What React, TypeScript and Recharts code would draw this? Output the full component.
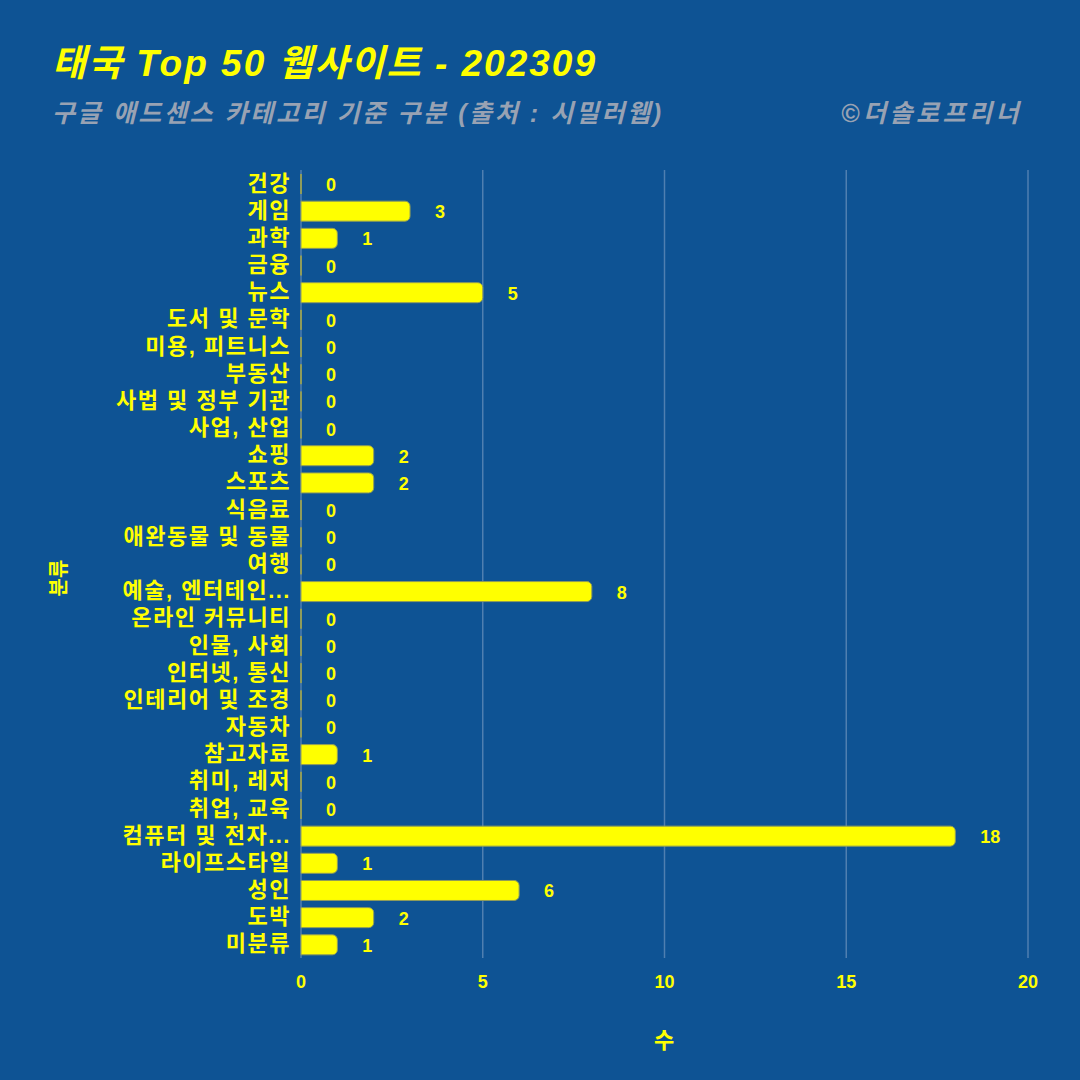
import React from "react"
import { BarChart, Bar, XAxis, YAxis, CartesianGrid } from "recharts"

const categories = [
  "건강", "게임", "과학", "금융", "뉴스", "도서 및 문학", "미용, 피트니스", "부동산",
  "사법 및 정부 기관", "사업, 산업", "쇼핑", "스포츠", "식음료", "애완동물 및 동물", "여행",
  "예술, 엔터테인...", "온라인 커뮤니티", "인물, 사회", "인터넷, 통신", "인테리어 및 조경",
  "자동차", "참고자료", "취미, 레저", "취업, 교육", "컴퓨터 및 전자...", "라이프스타일",
  "성인", "도박", "미분류",
]
const counts = [0, 3, 1, 0, 5, 0, 0, 0, 0, 0, 2, 2, 0, 0, 0, 8, 0, 0, 0, 0, 0, 1, 0, 0, 18, 1, 6, 2, 1]
const xTicks = [0, 5, 10, 15, 20]

const data = categories.map((name, i) => ({ name, value: counts[i] }))

const BG = "#0e5394"
const YELLOW = "#ffff00"
const EDGE = "#8f9c5a"
const FONT = "'Liberation Sans', 'Noto Sans CJK KR', sans-serif"

function YTick({ x, y, payload }: any) {
  return (
    <text x={x + 4} y={y} dy={7} textAnchor="end" fill={YELLOW} fontSize={22} fontWeight={700} fontFamily={FONT} letterSpacing={1.5}>
      {payload.value}
    </text>
  )
}

function XTick({ x, y, payload }: any) {
  return (
    <text x={x} y={y} dy={22} textAnchor="middle" fill={YELLOW} fontSize={18} fontWeight={700} fontFamily={FONT}>
      {payload.value}
    </text>
  )
}

// bar + value label together, so zero-length bars still get their "0"
function BarWithLabel({ x, y, width, height, value }: any) {
  const w = Math.max(width || 0, 0)
  const r = Math.min(5, w / 2, height / 2)
  const d = `M${x},${y} H${x + w - r} A${r},${r} 0 0 1 ${x + w},${y + r} V${y + height - r} A${r},${r} 0 0 1 ${x + w - r},${y + height} H${x} Z`
  return (
    <g>
      {w > 0 ? (
        <path d={d} fill={YELLOW} stroke={EDGE} strokeWidth={1} />
      ) : (
        <rect x={x - 1} y={y} width={2} height={height} fill={EDGE} />
      )}
      <text x={x + w + 25} y={y + height / 2} dy={7} textAnchor="start" fill={YELLOW} fontSize={18} fontWeight={700} fontFamily={FONT}>
        {value}
      </text>
    </g>
  )
}

export default function App() {
  return (
    <div style={{ position: "absolute", left: 0, top: 0, width: 1080, height: 1080, background: BG, fontFamily: FONT }}>
      <div style={{ position: "absolute", left: 52, top: 45, color: YELLOW, fontSize: 37, fontWeight: 700, fontStyle: "italic", whiteSpace: "nowrap", lineHeight: 1, letterSpacing: 2 }}>
        태국 Top 50 웹사이트 - 202309
      </div>
      <div style={{ position: "absolute", left: 52, top: 101, color: "#98a2b3", fontSize: 25, fontWeight: 700, fontStyle: "italic", whiteSpace: "nowrap", lineHeight: 1, letterSpacing: 2.6 }}>
        구글 애드센스 카테고리 기준 구분 (출처 : 시밀러웹)
      </div>
      <div style={{ position: "absolute", right: 58, top: 101, color: "#98a2b3", fontSize: 25, fontWeight: 700, fontStyle: "italic", whiteSpace: "nowrap", lineHeight: 1, letterSpacing: 3.5 }}>
        ©더솔로프리너
      </div>
      <div style={{ position: "absolute", left: 57, top: 578, transform: "translate(-50%, -50%) rotate(-90deg)", color: YELLOW, fontSize: 20, fontWeight: 700, whiteSpace: "nowrap" }}>
        분류
      </div>
      <div style={{ position: "absolute", left: 664, top: 1038, transform: "translate(-50%, -50%)", color: YELLOW, fontSize: 22, fontWeight: 700 }}>
        수
      </div>
      <div style={{ position: "absolute", left: 0, top: 0 }}>
        <BarChart
          width={1080}
          height={1080}
          data={data}
          layout="vertical"
          margin={{ top: 170, right: 52, bottom: 82, left: 0 }}
          barCategoryGap={0}
        >
          <CartesianGrid horizontal={false} stroke="rgba(200,210,230,0.35)" strokeWidth={1.5} />
          <XAxis
            type="number"
            domain={[0, 20]}
            ticks={xTicks}
            axisLine={false}
            tickLine={false}
            tick={<XTick />}
            height={40}
          />
          <YAxis
            type="category"
            dataKey="name"
            width={301}
            axisLine={false}
            tickLine={false}
            interval={0}
            tick={<YTick />}
            tickMargin={8}
          />
          <Bar dataKey="value" fill={YELLOW} barSize={20} shape={<BarWithLabel />} isAnimationActive={false} />
        </BarChart>
      </div>
    </div>
  )
}
